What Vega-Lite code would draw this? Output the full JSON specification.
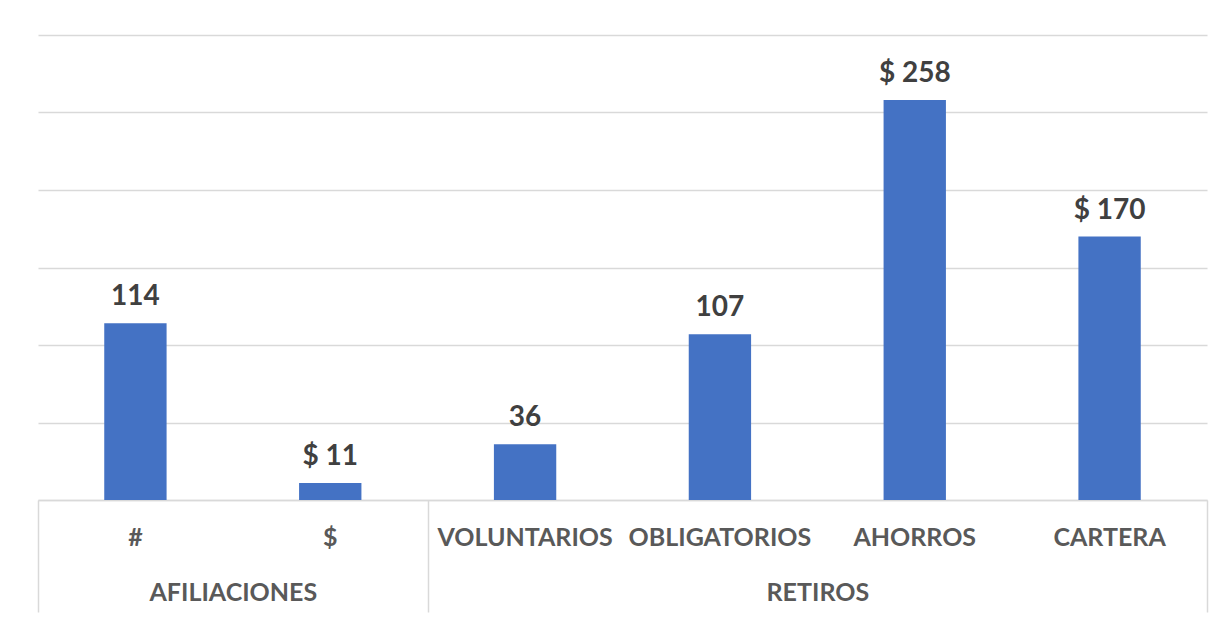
{
  "$schema": "https://vega.github.io/schema/vega-lite/v6.json",
  "width": 1169,
  "height": 465,
  "autosize": "none",
  "padding": {"left": 38, "top": 35, "right": 22, "bottom": 120},
  "background": "white",
  "config": {"view": {"stroke": null}, "font": "Lato"},
  "datasets": {
    "valores": [
      {"grupo": "AFILIACIONES", "categoria": "#", "valor": 114, "etiqueta": "114"},
      {"grupo": "AFILIACIONES", "categoria": "$", "valor": 11, "etiqueta": "$ 11"},
      {"grupo": "RETIROS", "categoria": "VOLUNTARIOS", "valor": 36, "etiqueta": "36"},
      {"grupo": "RETIROS", "categoria": "OBLIGATORIOS", "valor": 107, "etiqueta": "107"},
      {"grupo": "RETIROS", "categoria": "AHORROS", "valor": 258, "etiqueta": "$ 258"},
      {"grupo": "RETIROS", "categoria": "CARTERA", "valor": 170, "etiqueta": "$ 170"}
    ]
  },
  "layer": [
    {
      "data": {"name": "valores"},
      "encoding": {
        "x": {
          "field": "categoria",
          "type": "nominal",
          "sort": null,
          "scale": {"paddingInner": 0.68, "paddingOuter": 0.34},
          "axis": {
            "orient": "bottom",
            "title": null,
            "domain": true,
            "domainColor": "#D9D9D9",
            "domainWidth": 1.5,
            "ticks": false,
            "labelAngle": 0,
            "labelFont": "Lato",
            "labelFontWeight": "bold",
            "labelFontSize": 25,
            "labelColor": "#595959",
            "labelBaseline": "middle",
            "labelPadding": 37,
            "labelOverlap": false,
            "labelLimit": 400
          }
        },
        "y": {
          "field": "valor",
          "type": "quantitative",
          "scale": {"domain": [0, 300], "nice": false},
          "axis": {
            "title": null,
            "domain": false,
            "ticks": false,
            "labels": false,
            "grid": true,
            "gridColor": "#D9D9D9",
            "gridWidth": 1.5,
            "values": [0, 50, 100, 150, 200, 250, 300]
          }
        }
      },
      "layer": [
        {"mark": {"type": "bar", "color": "#4472C4"}},
        {
          "mark": {
            "type": "text",
            "align": "center",
            "baseline": "alphabetic",
            "dy": -18,
            "font": "Lato",
            "fontWeight": "bold",
            "fontSize": 28,
            "color": "#404040"
          },
          "encoding": {"text": {"field": "etiqueta", "type": "nominal"}}
        }
      ]
    },
    {
      "data": {"name": "valores"},
      "mark": {"type": "rule", "opacity": 0},
      "encoding": {
        "x": {
          "datum": 0,
          "type": "quantitative",
          "scale": {"domain": [0, 6], "nice": false, "zero": false},
          "axis": {
            "orient": "bottom",
            "title": null,
            "values": [0, 1, 2, 4, 6],
            "domain": false,
            "grid": false,
            "ticks": true,
            "tickSize": 112,
            "tickColor": "#D9D9D9",
            "tickWidth": 1.5,
            "tickOpacity": {"condition": {"test": "datum.value === 1 || datum.value === 4", "value": 0}, "value": 1},
            "labelExpr": "datum.value === 1 ? 'AFILIACIONES' : (datum.value === 4 ? 'RETIROS' : '')",
            "labelFont": "Lato",
            "labelFontWeight": "bold",
            "labelFontSize": 25,
            "labelColor": "#595959",
            "labelBaseline": "middle",
            "labelPadding": -20,
            "labelOverlap": false,
            "labelFlush": false,
            "labelBound": false,
            "labelLimit": 400
          }
        }
      }
    }
  ],
  "resolve": {"scale": {"x": "independent"}, "axis": {"x": "independent"}}
}
